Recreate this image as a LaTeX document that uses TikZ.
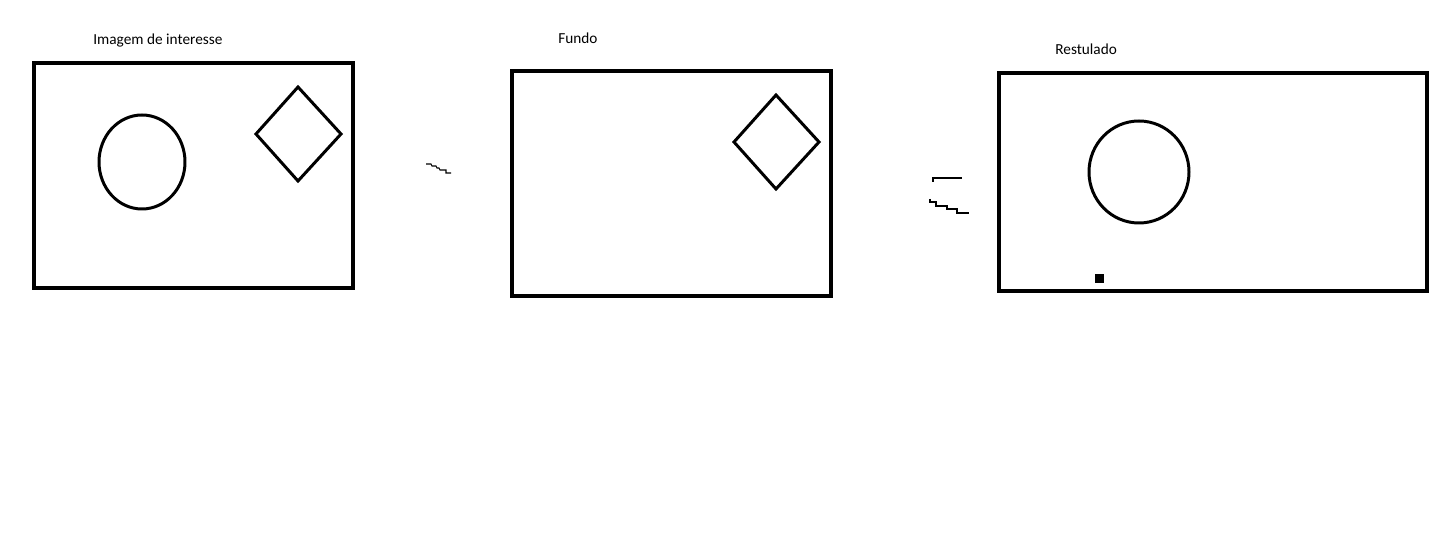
\documentclass[tikz,border=0pt]{standalone}
\usepackage{fontspec}
\setmainfont{Carlito}
\usepackage{tikz}
\usetikzlibrary{calc}

\begin{document}
\begin{tikzpicture}[x=0.02cm,y=-0.02cm,line join=miter]
\useasboundingbox (0,0) rectangle (1451,553);
\tikzset{frame/.style={line width=2.3pt},figline/.style={line width=1.7pt},pen/.style={line width=0.6pt},
  lbl/.style={anchor=west,inner sep=0pt,font=\fontsize{8.7}{10}\selectfont}}
% labels
\node[lbl] (tinteresse) at (93,41) {Imagem de interesse};
\node[lbl] (tfundo) at (558,38) {Fundo};
\node[lbl] (tresult) at (1055,49) {Restulado};
% imagem de interesse
\draw[frame] (34,63) rectangle (353,288);
\draw[figline] (142,162) ellipse (43 and 47);
\draw[figline] (298,87) -- (341,134) -- (298,181) -- (256,134) -- cycle;
% sinal de menos
\draw[pen] (426,164) -- (431,164) -- (432,166) -- (436,166) -- (437,168) -- (439,168) -- (440,170) -- (446,170) -- (446,173) -- (451,173);
% fundo
\draw[frame] (512,71) rectangle (831,296);
\draw[figline] (776,95) -- (819,142) -- (776,189) -- (734,142) -- cycle;
% sinal de igual
\draw[pen] (933,182) -- (933,178) -- (962,178);
\draw[pen] (930,199) -- (930,202) -- (936,202) -- (936,206) -- (947,206) -- (947,209) -- (957,209) -- (957,213) -- (969,213);
% resultado
\draw[frame] (999,73) rectangle (1427,291);
\draw[figline] (1139,172) ellipse (50 and 51);
\fill (1095,274) rectangle (1104,283);
\end{tikzpicture}
\end{document}
